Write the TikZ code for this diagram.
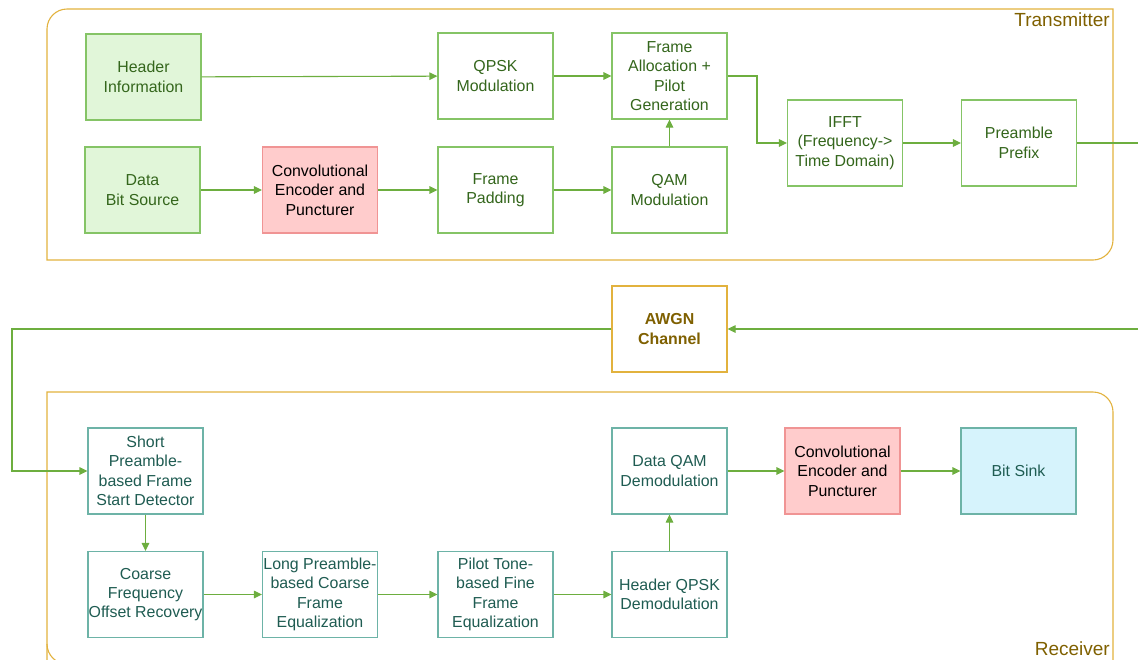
\documentclass[tikz,border=0pt]{standalone}
\usepackage{fontspec}
\setmainfont{Liberation Sans}
\usetikzlibrary{arrows.meta}
\definecolor{cont}{HTML}{E2B23E}
\definecolor{lbl}{HTML}{7F6000}
\definecolor{arr}{HTML}{6DAE3F}
\definecolor{gfill}{HTML}{E1F6D9}
\definecolor{gline}{HTML}{85C466}
\definecolor{gtext}{HTML}{34661C}
\definecolor{tline}{HTML}{6DB3A7}
\definecolor{ttext}{HTML}{1F5C52}
\definecolor{rfill}{HTML}{FFCCCC}
\definecolor{rline}{HTML}{F09494}
\definecolor{bfill}{HTML}{D6F3FC}
\newcommand{\boxfont}{\fontsize{15.9}{19.4}\selectfont}
\begin{document}
\begin{tikzpicture}[x=1pt,y=-1pt,
  blk/.style={draw, minimum width=115pt, minimum height=86pt, align=center, inner sep=0.5pt, font=\boxfont, line width=1.1pt},
  txg/.style={blk, draw=gline, fill=gfill, text=gtext},
  txw/.style={blk, draw=gline, fill=white, text=gtext},
  red/.style={blk, draw=rline, fill=rfill, text=black},
  rxw/.style={blk, draw=tline, fill=white, text=ttext},
  rxb/.style={blk, draw=tline, fill=bfill, text=ttext},
  awgn/.style={blk, draw=cont, fill=white, text=lbl, font=\boxfont\bfseries},
  link/.style={draw=arr, line width=1.1pt, -{Triangle[length=8pt,width=7.5pt]}},
  plain/.style={draw=arr, line width=1.1pt},
  contain/.style={draw=cont, line width=1.1pt},
  lab/.style={text=lbl, font=\fontsize{19}{22}\selectfont, inner sep=0pt}]
\useasboundingbox (0,0) rectangle (1138,659);
\begin{scope}
\clip (0,0) rectangle (1138,659);
% containers
\draw[contain] (47,260) -- (47,29) .. controls (47,18) and (56,9) .. (67,9) -- (1113,9) -- (1113,240) .. controls (1113,251) and (1104,260) .. (1093,260) -- cycle;
\draw[contain] (47,664) -- (47,392) -- (1093,392) .. controls (1104,392) and (1113,401) .. (1113,412) -- (1113,672);
\draw[contain] (47,644) .. controls (47,655) and (56,664) .. (67,664);
\end{scope}
\node[lab, anchor=east] (txlab) at (1110,20) {Transmitter};
\node[lab, anchor=east] (rxlab) at (1110,649) {Receiver};
% transmitter nodes
\node[txg] (hdr) at (143.5,77) {Header\\Information};
\node[txg] (src) at (142.5,190) {Data\\Bit Source};
\node[red] (enc) at (320,190) {Convolutional\\Encoder and\\Puncturer};
\node[txw] (qpsk) at (495.5,76) {QPSK\\Modulation};
\node[txw] (pad) at (495.5,190) {Frame\\Padding};
\node[txw] (alloc) at (669.5,76) {Frame\\Allocation +\\Pilot\\Generation};
\node[txw] (qam) at (669.5,190) {QAM\\Modulation};
\node[txw] (ifft) at (845,143) {IFFT\\(Frequency-{}>\\Time Domain)};
\node[txw] (pre) at (1019,143) {Preamble\\Prefix};
% channel
\node[awgn] (chan) at (669.5,329) {AWGN\\Channel};
% receiver nodes
\node[rxw] (sps) at (145.5,471) {Short\\Preamble-\\based Frame\\Start Detector};
\node[rxw] (cfo) at (145.5,594.5) {Coarse\\Frequency\\Offset Recovery};
\node[rxw] (lpe) at (320,594.5) {Long Preamble-\\based Coarse\\Frame\\Equalization};
\node[rxw] (pte) at (495.5,594.5) {Pilot Tone-\\based Fine\\Frame\\Equalization};
\node[rxw] (hqd) at (669.5,594.5) {Header QPSK\\Demodulation};
\node[rxw] (dqd) at (669.5,471) {Data QAM\\Demodulation};
\node[red] (dec) at (842.5,471) {Convolutional\\Encoder and\\Puncturer};
\node[rxb] (sink) at (1018.5,471) {Bit Sink};
% free ends
\coordinate (txout) at (1138,143);
\coordinate (rxin) at (1138,329);
\coordinate (leftrail) at (12,329);
\coordinate (bend) at (757,0);
% transmitter links
\draw[link] (hdr) -- (qpsk);
\draw[link] (src) -- (enc);
\draw[link] (enc) -- (pad);
\draw[link] (pad) -- (qam);
\draw[link] (qpsk) -- (alloc);
\draw[link] (qam) -- (alloc);
\draw[link] (alloc.east) -| (bend |- alloc.east) |- (ifft.west);
\draw[link] (ifft) -- (pre);
\draw[plain] (pre) -- (txout);
% channel links
\draw[link] (rxin) -- (chan);
\draw[link] (chan.west) -- (leftrail) |- (sps.west);
% receiver links
\draw[link] (sps) -- (cfo);
\draw[link] (cfo) -- (lpe);
\draw[link] (lpe) -- (pte);
\draw[link] (pte) -- (hqd);
\draw[link] (hqd) -- (dqd);
\draw[link] (dqd) -- (dec);
\draw[link] (dec) -- (sink);
\end{tikzpicture}
\end{document}
